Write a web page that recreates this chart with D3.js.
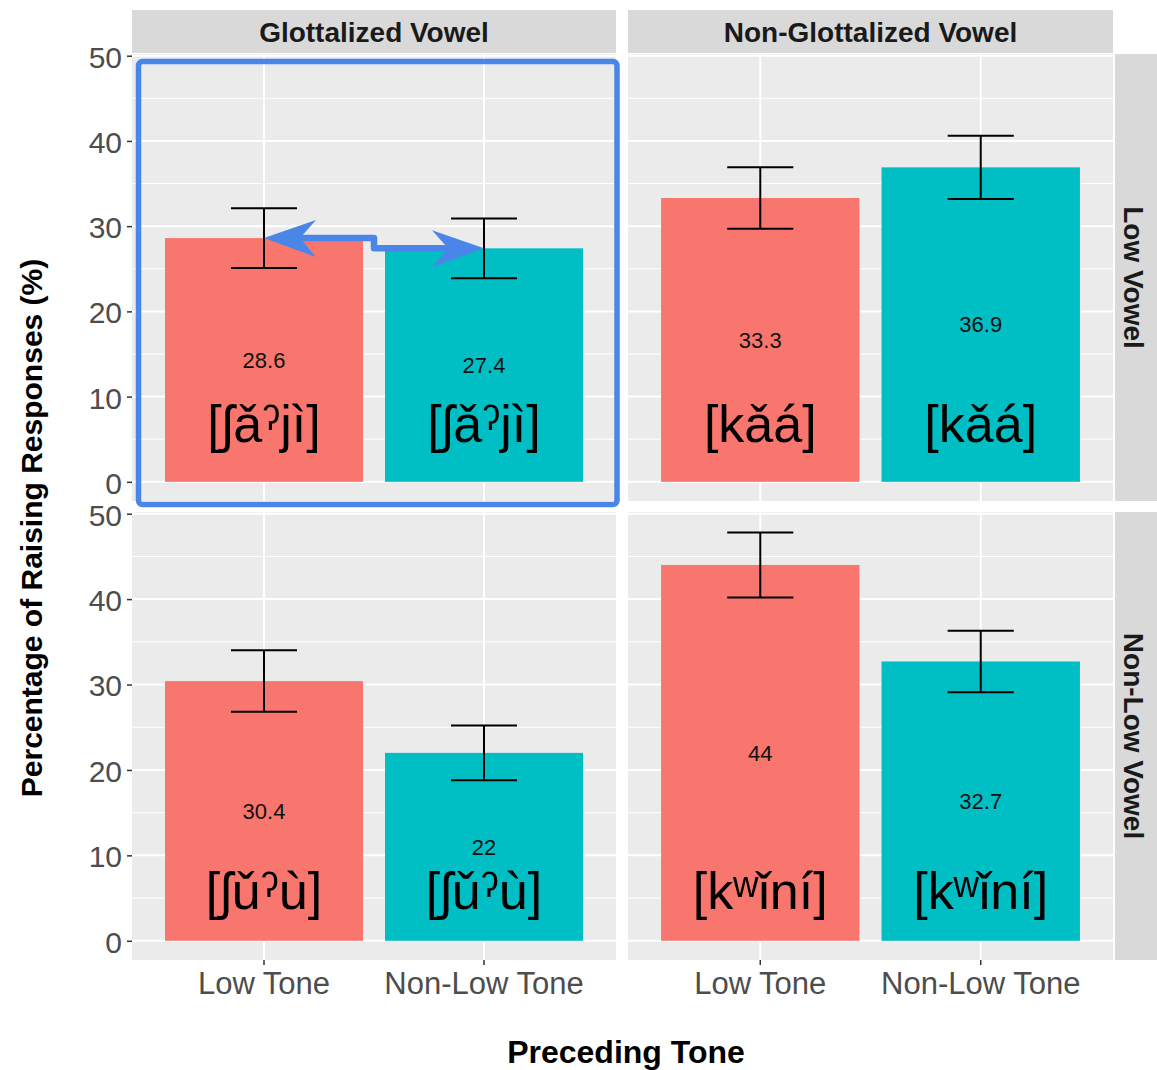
<!DOCTYPE html>
<html>
<head>
<meta charset="utf-8">
<script src="https://cdn.jsdelivr.net/npm/d3@7"></script>
<style>
  html, body { margin: 0; padding: 0; background: #fff; }
  text { font-family: "Liberation Sans", Arial, Helvetica, "DejaVu Sans", sans-serif; }
</style>
</head>
<body>
<svg id="chart" width="1157" height="1070"></svg>
<script>
// ---- data ----
const colFacets = ["Glottalized Vowel", "Non-Glottalized Vowel"];
const rowFacets = ["Low Vowel", "Non-Low Vowel"];
const tones = ["Low Tone", "Non-Low Tone"];
// panel order: [Glott/Low, NonGlott/Low, Glott/NonLow, NonGlott/NonLow]
const meanLowTone    = [28.6, 33.3, 30.4, 44];
const meanNonLowTone = [27.4, 36.9, 22, 32.7];
const errLowTone     = [3.5, 3.6, 3.6, 3.8];
const errNonLowTone  = [3.5, 3.7, 3.2, 3.6];
const ipaLabels      = ["[ʃǎˀjì]", "[kǎá]", "[ʃǔˀù]", "[kʷǐní]"];
const ipaRowY        = [6.8, 5.8];
const yTicks         = [0, 10, 20, 30, 40, 50];
const yMinorTicks    = [5, 15, 25, 35, 45];
const fillColors     = ["#F8766D", "#00BFC4"];

const svg = d3.select("#chart");
svg.append("rect").attr("width", 1157).attr("height", 1070).attr("fill", "#fff");

const colRanges = [[132, 616], [628, 1113]];
const rowRanges = [[54, 501], [512, 960]];
const yDomain = [-2.25, 50.2];

const xScales = colRanges.map(r => d3.scaleBand().domain(tones).range(r).paddingInner(0.1).paddingOuter(0.15));
const yScales = rowRanges.map(r => d3.scaleLinear().domain(yDomain).range([r[1], r[0]]));

// strips top
colFacets.forEach((name, c) => {
  const [x0, x1] = colRanges[c];
  svg.append("rect").attr("x", x0).attr("y", 10).attr("width", x1 - x0).attr("height", 43).attr("fill", "#D9D9D9");
  svg.append("text").attr("x", (x0 + x1) / 2).attr("y", 32).attr("dy", "0.35em")
    .attr("text-anchor", "middle").attr("font-size", 28).attr("font-weight", "bold").attr("fill", "#1A1A1A").text(name);
});
// strips right
rowFacets.forEach((name, r) => {
  const [y0, y1] = rowRanges[r];
  svg.append("rect").attr("x", 1115).attr("y", y0).attr("width", 42).attr("height", y1 - y0).attr("fill", "#D9D9D9");
  svg.append("text").attr("transform", `translate(1134,${(y0 + y1) / 2}) rotate(90)`).attr("dy", "0.35em")
    .attr("text-anchor", "middle").attr("font-size", 28).attr("font-weight", "bold").attr("fill", "#1A1A1A").text(name);
});

rowFacets.forEach((rn, r) => {
  colFacets.forEach((cn, c) => {
    const i = r * 2 + c;
    const x = xScales[c], y = yScales[r];
    const [x0, x1] = colRanges[c], [y0, y1] = rowRanges[r];
    const g = svg.append("g");
    g.append("rect").attr("x", x0).attr("y", y0).attr("width", x1 - x0).attr("height", y1 - y0).attr("fill", "#EBEBEB");
    // minor grid
    g.selectAll(".minor").data(yMinorTicks).join("line")
      .attr("x1", x0).attr("x2", x1).attr("y1", d => y(d)).attr("y2", d => y(d))
      .attr("stroke", "#fff").attr("stroke-width", 1);
    // major grid
    g.selectAll(".major").data(yTicks).join("line")
      .attr("x1", x0).attr("x2", x1).attr("y1", d => y(d)).attr("y2", d => y(d))
      .attr("stroke", "#fff").attr("stroke-width", 2);
    g.selectAll(".vmajor").data(tones).join("line")
      .attr("x1", d => x(d) + x.bandwidth() / 2).attr("x2", d => x(d) + x.bandwidth() / 2)
      .attr("y1", y0).attr("y2", y1).attr("stroke", "#fff").attr("stroke-width", 2);

    const rows = [
      { tone: tones[0], v: meanLowTone[i], e: errLowTone[i], fill: fillColors[0] },
      { tone: tones[1], v: meanNonLowTone[i], e: errNonLowTone[i], fill: fillColors[1] }
    ];
    g.selectAll(".bar").data(rows).join("rect")
      .attr("x", d => x(d.tone)).attr("width", x.bandwidth())
      .attr("y", d => y(d.v)).attr("height", d => y(0) - y(d.v)).attr("fill", d => d.fill);

    // value labels
    g.selectAll(".val").data(rows).join("text")
      .attr("x", d => x(d.tone) + x.bandwidth() / 2).attr("y", d => y(d.v / 2)).attr("dy", "0.35em")
      .attr("text-anchor", "middle").attr("font-size", 22).attr("fill", "#111").text(d => d.v);
    // ipa labels
    g.selectAll(".ipa").data(rows).join("text")
      .attr("x", d => x(d.tone) + x.bandwidth() / 2).attr("y", y(ipaRowY[r])).attr("dy", "0.35em")
      .attr("text-anchor", "middle").attr("font-size", 52).attr("fill", "#000").text(ipaLabels[i]);

    // error bars
    const capW = x.step() * 0.3;
    rows.forEach(d => {
      const cx = x(d.tone) + x.bandwidth() / 2;
      g.append("line").attr("x1", cx).attr("x2", cx).attr("y1", y(d.v + d.e)).attr("y2", y(d.v - d.e)).attr("stroke", "#000").attr("stroke-width", 2);
      [d.v + d.e, d.v - d.e].forEach(t => {
        g.append("line").attr("x1", cx - capW / 2).attr("x2", cx + capW / 2).attr("y1", y(t)).attr("y2", y(t)).attr("stroke", "#000").attr("stroke-width", 2);
      });
    });

    // y axis for left column
    if (c === 0) {
      const ax = svg.append("g").attr("transform", `translate(${x0},0)`)
        .call(d3.axisLeft(y).tickValues(yTicks).tickSize(5).tickPadding(5));
      ax.select(".domain").remove();
      ax.selectAll(".tick line").attr("stroke", "#333").attr("stroke-width", 1.5);
      ax.selectAll(".tick text").attr("font-size", 30).attr("fill", "#4D4D4D")
        .attr("font-family", '"Liberation Sans", Arial, sans-serif').attr("dy", "0.38em");
    }
    // x axis for bottom row
    if (r === 1) {
      const ax = svg.append("g").attr("transform", `translate(0,${y1})`)
        .call(d3.axisBottom(x).tickSize(5).tickPadding(7));
      ax.select(".domain").remove();
      ax.selectAll(".tick line").attr("stroke", "#333").attr("stroke-width", 1.5);
      ax.selectAll(".tick text").attr("font-size", 31).attr("fill", "#4D4D4D")
        .attr("font-family", '"Liberation Sans", Arial, sans-serif');
    }
  });
});

// axis titles
svg.append("text").attr("x", 626).attr("y", 1052).attr("dy", "0.35em").attr("text-anchor", "middle")
  .attr("font-size", 32).attr("font-weight", "bold").attr("fill", "#000").text("Preceding Tone");
svg.append("text").attr("transform", "translate(31,528) rotate(-90)").attr("dy", "0.35em").attr("text-anchor", "middle")
  .attr("font-size", 30).attr("font-weight", "bold").attr("fill", "#000").text("Percentage of Raising Responses (%)");

// annotation: blue highlight box and double arrow (first panel)
const blue = "#4A86E8";
const xa = xScales[0], ya = yScales[0];
svg.append("rect").attr("x", 138.5).attr("y", 61.5).attr("width", 478.5).attr("height", 443)
  .attr("rx", 4).attr("fill", "none").attr("stroke", blue).attr("stroke-width", 5.5);
const lx = xa(tones[0]) + xa.bandwidth() / 2, rx = xa(tones[1]) + xa.bandwidth() / 2;
const ly = ya(meanLowTone[0]), ry = ya(meanNonLowTone[0]);
const mx = (xa(tones[0]) + xa.bandwidth() + xa(tones[1])) / 2;
svg.append("path")
  .attr("d", `M${lx + 30},${ly} L${mx},${ly} L${mx},${ry} L${rx - 30},${ry}`)
  .attr("fill", "none").attr("stroke", blue).attr("stroke-width", 6.5).attr("stroke-linejoin", "round");
// arrowheads
svg.append("path")
  .attr("d", `M${lx},${ly} L${lx + 52},${ly - 18} L${lx + 36},${ly} L${lx + 52},${ly + 19} Z`)
  .attr("fill", blue);
svg.append("path")
  .attr("d", `M${rx},${ry} L${rx - 52},${ry - 18} L${rx - 36},${ry} L${rx - 52},${ry + 19} Z`)
  .attr("fill", blue);
</script>
</body>
</html>
